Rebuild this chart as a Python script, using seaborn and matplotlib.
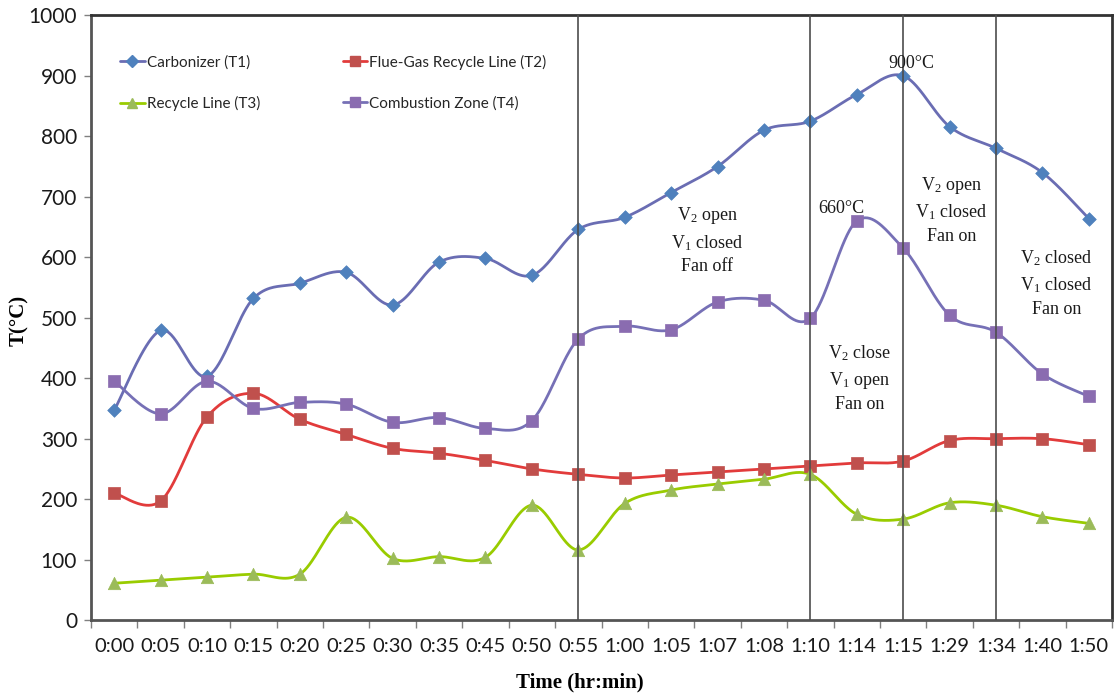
import numpy as np
import pandas as pd
import matplotlib
matplotlib.use("Agg")
import matplotlib.pyplot as plt
from matplotlib.lines import Line2D
import seaborn as sns

# ---- data ----------------------------------------------------------------
times = ["0:00", "0:05", "0:10", "0:15", "0:20", "0:25", "0:30", "0:35", "0:45",
         "0:50", "0:55", "1:00", "1:05", "1:07", "1:08", "1:10", "1:14", "1:15",
         "1:29", "1:34", "1:40", "1:50"]

carbonizer_t1 = [347, 479, 403, 532, 557, 575, 521, 592, 598, 570, 646, 666,
                 707, 750, 810, 825, 869, 900, 816, 780, 740, 664]
flue_gas_t2 = [210, 197, 336, 375, 332, 307, 284, 276, 264, 250, 241, 235,
               240, 245, 250, 255, 260, 263, 297, 300, 300, 290]
recycle_t3 = [61, 66, 71, 76, 76, 170, 102, 105, 104, 190, 116, 193,
              215, 225, 233, 241, 175, 167, 194, 190, 171, 160]
combustion_t4 = [395, 341, 395, 350, 360, 357, 327, 335, 317, 330, 465, 486,
                 480, 526, 529, 499, 660, 615, 504, 476, 407, 370]

series_names = ["Carbonizer (T1)", "Flue-Gas Recycle Line (T2)",
                "Recycle Line (T3)", "Combustion Zone (T4)"]
valve_change_times = ["0:55", "1:10", "1:15", "1:34"]

# ---- styling -------------------------------------------------------------
styles = {
    "Carbonizer (T1)": dict(line="#6a6db3", face="#4f81bd", marker="D", ms=48),
    "Flue-Gas Recycle Line (T2)": dict(line="#e23b3b", face="#c0504d", marker="s", ms=80),
    "Recycle Line (T3)": dict(line="#99cc00", face="#9bbb59", marker="^", ms=80),
    "Combustion Zone (T4)": dict(line="#7670b6", face="#8a6cb0", marker="s", ms=80),
}

sns.set_theme(style="white")
plt.rcParams["font.family"] = ["Lato", "DejaVu Sans"]
plt.rcParams["mathtext.fontset"] = "custom"
plt.rcParams["mathtext.rm"] = "Liberation Serif"
plt.rcParams["mathtext.it"] = "Liberation Serif"


def smooth_curve(xs, ys, samples=40):
    """Cardinal (Catmull-Rom) Bezier smoothing through every point."""
    p = np.column_stack([xs, ys]).astype(float)
    ext = np.vstack([p[0], p, p[-1]])
    t = np.linspace(0, 1, samples)[:, None]
    out = []
    for i in range(len(p) - 1):
        p0, p1 = ext[i + 1], ext[i + 2]
        c1 = p0 + (ext[i + 2] - ext[i]) / 6.0
        c2 = p1 - (ext[i + 3] - ext[i + 1]) / 6.0
        seg = ((1 - t) ** 3) * p0 + 3 * ((1 - t) ** 2) * t * c1 \
            + 3 * (1 - t) * t ** 2 * c2 + t ** 3 * p1
        out.append(seg if i == 0 else seg[1:])
    out = np.vstack(out)
    return out[:, 0], out[:, 1]


fig = plt.figure(figsize=(11.14, 6.96), dpi=100)
ax = fig.add_axes([0.0817, 0.109, 0.9165, 0.869])

x_idx = np.arange(len(times))
values = [carbonizer_t1, flue_gas_t2, recycle_t3, combustion_t4]

for name, vals in zip(series_names, values):
    st = styles[name]
    sx, sy = smooth_curve(x_idx, vals)
    curve = pd.DataFrame({"x": sx, "y": sy})
    sns.lineplot(data=curve, x="x", y="y", ax=ax, color=st["line"], lw=2.0,
                 sort=False, estimator=None, legend=False, zorder=3)
    pts = pd.DataFrame({"x": x_idx, "y": vals})
    sns.scatterplot(data=pts, x="x", y="y", ax=ax, marker=st["marker"],
                    s=st["ms"], color=st["face"], edgecolor=st["face"],
                    linewidth=0.5, legend=False, zorder=4)

# valve-state change markers
for tm in valve_change_times:
    ax.axvline(times.index(tm), color="#4d4d4d", lw=1.2, zorder=6)

# axes
ax.set_xlim(-0.5, len(times) - 0.5)
ax.set_ylim(0, 1000)
ax.set_yticks(np.arange(0, 1001, 100))
ax.set_xticks(x_idx)
ax.set_xticklabels(times)
ax.set_xticks(np.arange(-0.5, len(times), 1.0), minor=True)
ax.tick_params(axis="x", which="major", length=0, pad=13, labelsize=14.5,
               colors="#1a1a1a")
ax.tick_params(axis="x", which="minor", length=6, width=1.0, color="#808080",
               direction="out", bottom=True)
ax.tick_params(axis="y", which="major", length=5, width=1.0, color="#808080",
               direction="out", left=True, labelsize=15, colors="#1a1a1a", pad=5)
for side, sp in ax.spines.items():
    sp.set_visible(True)
    sp.set_linewidth(2.0)
    sp.set_color("#333333" if side in ("top", "right") else "#555555")

ax.set_xlabel("Time (hr:min)", family="Liberation Serif", fontweight="bold",
              fontsize=15, color="black")
ax.xaxis.set_label_coords(0.479, -0.087)
ax.set_ylabel("T(°C)", family="Liberation Serif", fontweight="bold",
              fontsize=15, color="black")
ax.yaxis.set_label_coords(-0.061, 0.495)

# legend (two columns, row-wise order)
handles = {}
for name in series_names:
    st = styles[name]
    handles[name] = Line2D([], [], color=st["line"], lw=2.0, marker=st["marker"],
                           markersize=6 if st["marker"] == "D" else 7,
                           markerfacecolor=st["face"], markeredgecolor=st["face"])
order = ["Carbonizer (T1)", "Recycle Line (T3)",
         "Flue-Gas Recycle Line (T2)", "Combustion Zone (T4)"]
ax.legend([handles[n] for n in order], order, ncol=2, frameon=False,
          loc="upper left", bbox_to_anchor=(0.015, 0.958), fontsize=11,
          handlelength=1.6, handletextpad=0.15, columnspacing=5.4,
          labelspacing=1.75)

# annotations
serif = dict(family="Liberation Serif", fontsize=13, color="#1a1a1a",
             ha="center", va="center", linespacing=1.45, zorder=7)
ax.text(12.78, 628, "V$_2$ open\nV$_1$ closed\nFan off", **serif)
ax.text(18.04, 678, "V$_2$ open\nV$_1$ closed\nFan on", **serif)
ax.text(20.3, 557, "V$_2$ closed\nV$_1$ closed\nFan on", **serif)
ax.text(16.06, 400, "V$_2$ close\nV$_1$ open\nFan on", **serif)
ax.text(17.18, 921, "900°C", family="Liberation Serif", fontsize=13,
        color="#1a1a1a", ha="center", va="center", zorder=7)
ax.text(15.67, 681, "660°C", family="Liberation Serif", fontsize=13,
        color="#1a1a1a", ha="center", va="center", zorder=7)

fig.savefig("out.png", dpi=100)
